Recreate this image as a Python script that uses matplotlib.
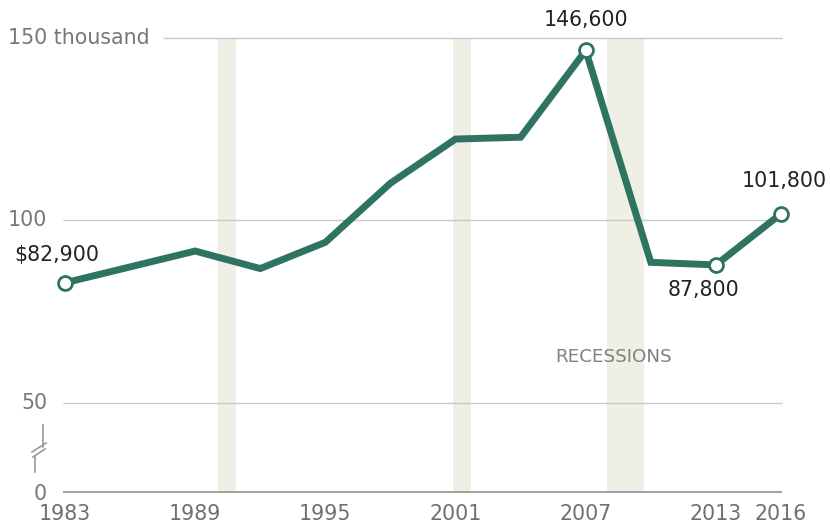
import matplotlib.pyplot as plt
from matplotlib.lines import Line2D

# median net worth of households, thousands of dollars
years = [1983, 1989, 1992, 1995, 1998, 2001, 2004, 2007, 2010, 2013, 2016]
worth = [82.9, 91.6, 86.8, 94.0, 110.2, 122.3, 122.8, 146.6, 88.5, 87.8, 101.8]

# recession spans (start, end)
recessions = [(1990.05, 1990.9), (2000.9, 2001.7), (2008.0, 2009.7)]

tick_years = [1983, 1989, 1995, 2001, 2007, 2013, 2016]
ymin = 25.55  # where the "0" baseline sits after the axis break

labelled = {1983: "$82,900", 2007: "146,600", 2013: "87,800", 2016: "101,800"}
# label offsets in pixels from the marker
offsets = {1983: (-8, 28), 2007: (0, 30), 2013: (-12, -25), 2016: (3, 33)}

green = "#2f7462"
grey_txt = "#777777"
fs = 14.8

W, H = 830, 525
fig = plt.figure(figsize=(W / 100, H / 100), dpi=100)
ax = fig.add_axes([65 / W, 1 - 492 / H, (781 - 65) / W, (492 - 38) / H])
ax.set_xlim(1983, 2016)
ax.set_ylim(ymin, 150)
ax.axis("off")

for a, b in recessions:
    ax.axvspan(a, b, ymin=0, ymax=1, color="#efefe5", lw=0, zorder=0)

# gridlines, the top one starts after the "thousand" label
ax.hlines(150, 1987.5, 2016.05, color="#c8c8c8", lw=1, clip_on=False, zorder=1)
ax.hlines([50, 100], 1982.9, 2016.05, color="#c8c8c8", lw=1, clip_on=False, zorder=1)
ax.hlines(ymin, 1982.9, 2016.05, color="#9a9a9a", lw=1.3, clip_on=False, zorder=1)

ax.plot(years, worth, color=green, lw=5, solid_joinstyle="miter",
        clip_on=False, zorder=3)
lab_x = [y for y in years if y in labelled]
lab_y = [worth[years.index(y)] for y in lab_x]
ax.plot(lab_x, lab_y, "o", ms=10, mfc="white", mec=green, mew=2,
        clip_on=False, zorder=4)

# value labels
for yr, lab in labelled.items():
    ax.annotate(lab, (yr, worth[years.index(yr)]), xytext=offsets[yr],
                textcoords="offset pixels", ha="center", va="center",
                fontsize=fs, color="#222222", zorder=5)

ax.text(2008.3, 62.6, "RECESSIONS", fontsize=13.2, color="#808080",
        ha="center", va="center")

# y labels
fig.text(8 / W, 1 - 38 / H, "150 thousand", fontsize=fs, color=grey_txt,
         ha="left", va="center")
for v, py in [(100, 220), (50, 403), (0, 494)]:
    fig.text(47 / W, 1 - py / H, str(v), fontsize=fs, color=grey_txt,
             ha="right", va="center")

# x labels
for yr in tick_years:
    ax.annotate(str(yr), (yr, ymin), xytext=(0, -22), textcoords="offset pixels",
                ha="center", va="center", fontsize=fs, color="#6f6f6f")

# axis break mark
brk = "#9a9a9a"
for xs, ys in [([43, 43], [425, 447]), ([32, 46], [452, 443]),
               ([33, 45], [457, 449]), ([35, 35], [456, 472])]:
    fig.add_artist(Line2D([x / W for x in xs], [1 - y / H for y in ys],
                          color=brk, lw=1.2))

fig.savefig("out.png", dpi=100)
